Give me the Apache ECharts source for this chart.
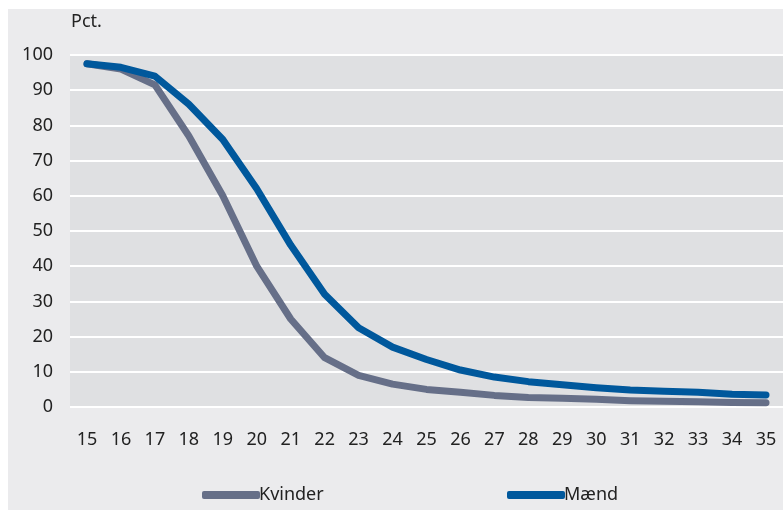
<!DOCTYPE html>
<html>
<head>
<meta charset="utf-8">
<script src="https://cdn.jsdelivr.net/npm/echarts@6/dist/echarts.min.js"></script>
<style>
html,body{margin:0;padding:0;background:#ffffff;}
#c{width:783px;height:510px;}
</style>
</head>
<body>
<div id="c"></div>
<script>
const categories = ['15','16','17','18','19','20','21','22','23','24','25','26','27','28','29','30','31','32','33','34','35'];
const kvinder = [97.5, 96, 91.5, 77, 60, 40, 25, 14, 9, 6.5, 5, 4.2, 3.3, 2.7, 2.5, 2.2, 1.8, 1.6, 1.5, 1.3, 1.2];
const maend = [97.5, 96.5, 94, 86, 76, 62, 46, 32, 22.5, 17, 13.5, 10.5, 8.5, 7.2, 6.3, 5.5, 4.8, 4.5, 4.2, 3.6, 3.4];
const yTicks = [0, 10, 20, 30, 40, 50, 60, 70, 80, 90, 100];

const font = '"Noto Sans", sans-serif';
const fs = 18;
const chart = echarts.init(document.getElementById('c'));
chart.setOption({
  animation: false,
  graphic: [
    {type: 'rect', z: -10, silent: true, shape: {x: 8, y: 9, width: 775, height: 501}, style: {fill: '#ebebed'}},
    {type: 'rect', z: -9, silent: true, shape: {x: 70, y: 55, width: 713, height: 352}, style: {fill: '#dfe0e2'}},
    {type: 'text', left: 71, top: 13, style: {text: 'Pct.', font: fs + 'px ' + font, fill: '#222'}}
  ],
  grid: {left: 70, right: 0, top: 55, bottom: 103, containLabel: false},
  xAxis: {
    type: 'category',
    data: categories,
    boundaryGap: true,
    axisLine: {show: false},
    axisTick: {show: false},
    axisLabel: {color: '#222', fontSize: fs, fontFamily: font, margin: 24}
  },
  yAxis: {
    type: 'value',
    min: 0, max: 100, interval: 10,
    axisLine: {show: false},
    axisTick: {show: false},
    axisLabel: {color: '#222', fontSize: fs, fontFamily: font, margin: 17},
    splitLine: {lineStyle: {color: '#ffffff', width: 2}}
  },
  legend: [
    {data: ['Kvinder'], left: 197, top: 481, itemWidth: 58, itemHeight: 8, icon: 'roundRect', itemGap: 0,
     textStyle: {color: '#222', fontSize: fs, fontFamily: font, padding: [0,0,0,-6]}},
    {data: ['Mænd'], left: 502, top: 481, itemWidth: 58, itemHeight: 8, icon: 'roundRect', itemGap: 0,
     textStyle: {color: '#222', fontSize: fs, fontFamily: font, padding: [0,0,0,-6]}}
  ],
  series: [
    {name: 'Kvinder', type: 'line', data: kvinder, symbol: 'none', color: '#666f88',
     lineStyle: {width: 7, color: '#666f88', cap: 'round', join: 'round'}},
    {name: 'Mænd', type: 'line', data: maend, symbol: 'none', color: '#00589c',
     lineStyle: {width: 7, color: '#00589c', cap: 'round', join: 'round'}}
  ]
});
</script>
</body>
</html>
